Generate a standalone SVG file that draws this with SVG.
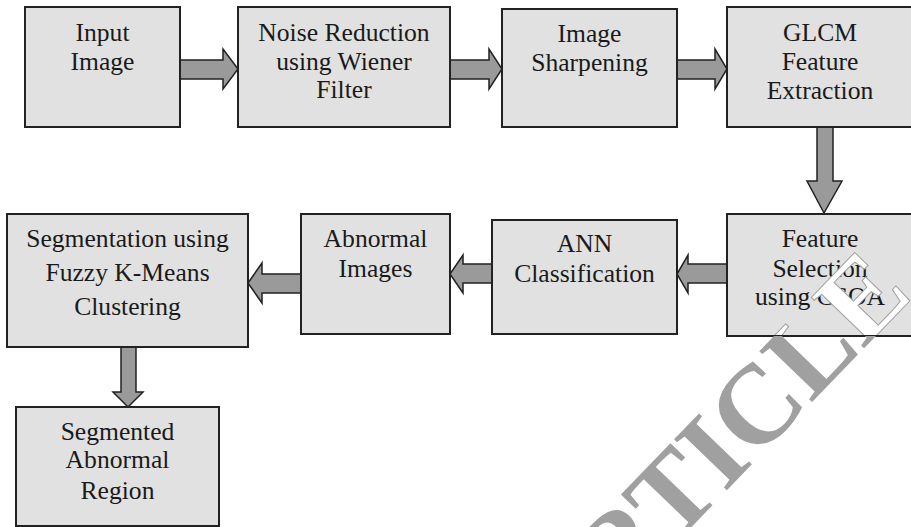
<svg xmlns="http://www.w3.org/2000/svg" width="911" height="527" viewBox="0 0 911 527">
<style>
.box{fill:#e1e1e1;stroke:#222;stroke-width:2}
.arr{fill:#9a9a9a;stroke:#222;stroke-width:1.5;stroke-linejoin:miter}
.t{font-family:"Liberation Serif","Times New Roman",serif;font-size:25.6px;fill:#1a1a1a;text-anchor:middle}
.wm{font-family:"Liberation Serif","Times New Roman",serif;font-size:112px;font-weight:bold}
</style>
<defs>
<clipPath id="outFS"><path clip-rule="evenodd" d="M0 0H911V527H0Z M727 214H913V336H727Z"/></clipPath>
<clipPath id="inFS"><rect x="728" y="215" width="185" height="120"/></clipPath>
</defs>
<rect width="911" height="527" fill="#fff"/>
<g id="connectors">
<polygon class="arr" points="180,60 223,60 223,49 238,69 223,89 223,79 180,79"/>
<polygon class="arr" points="450,60 489,60 489,49 502,69 489,89 489,79 450,79"/>
<polygon class="arr" points="677,60 715,60 715,49 727,69 715,89 715,79 677,79"/>
<polygon class="arr" points="817,127 833,127 833,181 842,181 824,213 807,181 817,181"/>
<polygon class="arr" points="727,264 688,264 688,255 677,274 688,293 688,283 727,283"/>
<polygon class="arr" points="492,264 463,264 463,255 450,274 463,293 463,283 492,283"/>
<polygon class="arr" points="301,274 262,274 262,263 248,283 262,303 262,293 301,293"/>
<polygon class="arr" points="121,347 136,347 136,392 143,392 128,407 113,392 121,392"/>
</g>
<g id="n1"><rect class="box" x="25" y="7" width="155" height="120"/><text class="t" x="102.5" y="41">Input</text><text class="t" x="102.5" y="70">Image</text></g>
<g id="n2"><rect class="box" x="238" y="7" width="212" height="120"/><text class="t" x="344" y="41">Noise Reduction</text><text class="t" x="344" y="70">using Wiener</text><text class="t" x="344" y="98">Filter</text></g>
<g id="n3"><rect class="box" x="502" y="9" width="175" height="118"/><text class="t" x="589.5" y="42">Image</text><text class="t" x="589.5" y="71">Sharpening</text></g>
<g id="n4"><rect class="box" x="727" y="7" width="186" height="120"/><text class="t" x="820" y="41">GLCM</text><text class="t" x="820" y="70">Feature</text><text class="t" x="820" y="99">Extraction</text></g>
<g id="n5"><rect class="box" x="727" y="214" width="186" height="122"/><text class="t" x="820" y="247">Feature</text><text class="t" x="820" y="277">Selection</text><text class="t" x="820" y="305">using CSOA</text></g>
<g id="n6"><rect class="box" x="492" y="220" width="185" height="114"/><text class="t" x="584.5" y="252">ANN</text><text class="t" x="584.5" y="282">Classification</text></g>
<g id="n7"><rect class="box" x="301" y="214" width="149" height="120"/><text class="t" x="375.5" y="247">Abnormal</text><text class="t" x="375.5" y="277">Images</text></g>
<g id="n8"><rect class="box" x="7" y="214" width="241" height="133"/><text class="t" x="127.5" y="247">Segmentation using</text><text class="t" x="127.5" y="281">Fuzzy K-Means</text><text class="t" x="127.5" y="315">Clustering</text></g>
<g id="n9"><rect class="box" x="16" y="407" width="203" height="119"/><text class="t" x="117.5" y="440">Segmented</text><text class="t" x="117.5" y="468">Abnormal</text><text class="t" x="117.5" y="499">Region</text></g>
<g id="watermark">
<g clip-path="url(#outFS)"><text class="wm" fill="#a0a0a0" transform="translate(619,602) rotate(-46)">RTICLE</text></g>
<g clip-path="url(#inFS)"><text class="wm" fill="#fff" stroke="#a0a0a0" stroke-width="1" transform="translate(619,602) rotate(-46)">RTICLE</text></g>
</g>
</svg>
